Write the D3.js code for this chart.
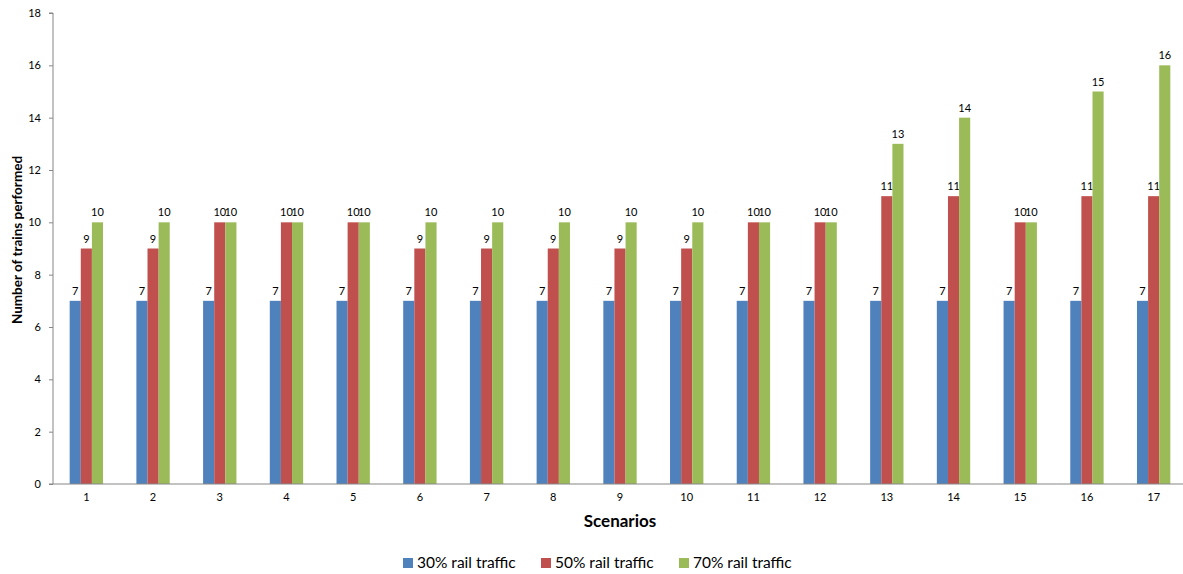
<!DOCTYPE html>
<html>
<head>
<meta charset="utf-8">
<script src="https://cdn.jsdelivr.net/npm/d3@7"></script>
<style>
  body { margin: 0; background: #fff; }
  svg { display: block; font-family: Lato, "Open Sans", sans-serif; }
</style>
</head>
<body>
<svg id="chart" width="1183" height="574"></svg>
<script>
const scenarios = ["1","2","3","4","5","6","7","8","9","10","11","12","13","14","15","16","17"];
const seriesNames = ["30% rail traffic", "50% rail traffic", "70% rail traffic"];
const traffic30 = [7,7,7,7,7,7,7,7,7,7,7,7,7,7,7,7,7];
const traffic50 = [9,9,10,10,10,9,9,9,9,9,10,10,11,11,10,11,11];
const traffic70 = [10,10,10,10,10,10,10,10,10,10,10,10,13,14,10,15,16];
const yTicks = [0,2,4,6,8,10,12,14,16,18];
const colors = ["#4F81BD", "#C0504D", "#9BBB59"];

const series = [traffic30, traffic50, traffic70];
const svg = d3.select("#chart");
const plotLeft = 53, plotRight = 1187, plotTop = 13, plotBottom = 484;

const x = d3.scaleBand().domain(scenarios).range([plotLeft, plotRight]).paddingInner(0).paddingOuter(0);
const inner = d3.scaleBand().domain(seriesNames).range([0, x.bandwidth()]).paddingInner(0).paddingOuter(1.5);
const y = d3.scaleLinear().domain([0, 18]).range([plotBottom, plotTop]);

// bars with value labels
series.forEach((vals, si) => {
  const g = svg.append("g");
  g.selectAll("rect").data(vals).join("rect")
    .attr("x", (d, i) => x(scenarios[i]) + inner(seriesNames[si]))
    .attr("y", d => y(d))
    .attr("width", inner.bandwidth())
    .attr("height", d => y(0) - y(d))
    .attr("fill", colors[si]);
  g.selectAll("text").data(vals).join("text")
    .attr("x", (d, i) => x(scenarios[i]) + inner(seriesNames[si]) + inner.bandwidth() / 2)
    .attr("y", d => y(d) - 6)
    .attr("text-anchor", "middle")
    .attr("font-size", 11)
    .attr("fill", "#000")
    .text(d => d);
});

// y axis
const yAxis = d3.axisLeft(y).tickValues(yTicks).tickSize(4).tickPadding(8);
const ya = svg.append("g").attr("transform", `translate(${plotLeft},0)`).call(yAxis);
ya.select(".domain").attr("stroke", "#868686").attr("d", `M-4,${plotTop}H0V${plotBottom}`);
ya.selectAll(".tick line").attr("stroke", "#868686");
ya.selectAll(".tick text").attr("font-size", 11).attr("fill", "#000").attr("font-family", "Lato, sans-serif");

// x axis
const xAxis = d3.axisBottom(x).tickSize(0).tickPadding(9);
const xa = svg.append("g").attr("transform", `translate(0,${plotBottom})`).call(xAxis);
xa.select(".domain").attr("stroke", "#868686").attr("d", `M${plotLeft - 4},0H${plotRight}`);
xa.selectAll(".tick text").attr("font-size", 11).attr("fill", "#000").attr("font-family", "Lato, sans-serif");

// axis titles
svg.append("text")
  .attr("x", 620).attr("y", 527)
  .attr("text-anchor", "middle").attr("font-size", 17).attr("font-weight", "bold")
  .text("Scenarios");
svg.append("text")
  .attr("transform", "translate(22,240) rotate(-90)")
  .attr("text-anchor", "middle").attr("font-size", 13.5).attr("font-weight", "bold")
  .text("Number of trains performed");

// legend
const legendX = [403, 541, 679];
const lg = svg.append("g");
seriesNames.forEach((name, i) => {
  lg.append("rect").attr("x", legendX[i]).attr("y", 558).attr("width", 10).attr("height", 10).attr("fill", colors[i]);
  lg.append("text").attr("x", legendX[i] + 14).attr("y", 568).attr("font-size", 15.5).attr("fill", "#000").text(name);
});
</script>
</body>
</html>
